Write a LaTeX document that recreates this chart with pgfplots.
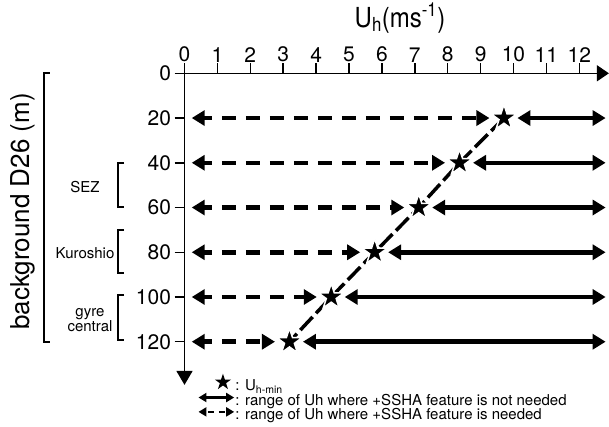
\documentclass[border=0pt]{standalone}
\usepackage{fontspec}
\setmainfont{TeX Gyre Heros}
\usepackage{pgfplots}
\pgfplotsset{compat=1.18}
\usetikzlibrary{arrows.meta,shapes.geometric}

\pgfdeclareplotmark{bigstar}{\node[star,star points=5,star point ratio=2.6,inner sep=0pt,minimum size=27pt,fill=black,draw=white,line width=1.5pt]{};}

\tikzset{
  dtip/.tip={Triangle[length=13pt,width=15pt]},
  ltip/.tip={Triangle[length=8pt,width=9pt]},
}
\newcommand{\lf}{\fontsize{15}{15}\selectfont}

\begin{document}
\begin{tikzpicture}
\useasboundingbox (-184.5pt,-42.1pt) rectangle (424.5pt,384.9pt);
\begin{axis}[
  at={(0pt,0pt)}, anchor=south west,
  scale only axis, width=424.4pt, height=311.6pt,
  xmin=0, xmax=12.9, ymin=0, ymax=139.3,
  y dir=reverse,
  axis x line=top, axis y line=left,
  axis line style={line width=1.5pt},
  x axis line style={-{Triangle[length=12pt,width=16pt]}},
  y axis line style={-{Triangle[length=14pt,width=16pt]}},
  xtick={0,1,...,12}, ytick={0,20,...,120},
  tick align=outside, major tick length=10pt,
  tick style={line width=1.5pt, black},
  ticklabel style={font=\fontsize{21}{25}\selectfont},
  xticklabel style={yshift=-2.5pt},
  /pgf/number format/assume math mode=true,
  title={U\textsubscript{h}(ms\textsuperscript{-1})},
  title style={at={(0.5078,1)},anchor=base,yshift=40pt,yscale=1.15,font=\fontsize{24}{28}\selectfont},
  clip=false,
  legend style={at={(0.030,0.036)},anchor=north west,draw=none,fill=none,
    inner sep=0pt,outer sep=0pt,
    nodes={inner sep=0pt,outer sep=0pt,text height=9.5pt,text depth=2.2pt},
    row sep=0pt},
  legend cell align=left,
]
% dashed ranges (feature needed)
\addplot[forget plot, line width=4.5pt, dash pattern=on 14pt off 10pt, dash phase=6pt, dtip-dtip] coordinates {(0.22,20) (9.27,20)};
\addplot[forget plot, line width=4.5pt, dash pattern=on 14pt off 10pt, dash phase=6pt, dtip-dtip] coordinates {(0.22,40) (7.92,40)};
\addplot[forget plot, line width=4.5pt, dash pattern=on 14pt off 10pt, dash phase=6pt, dtip-dtip] coordinates {(0.22,60) (6.68,60)};
\addplot[forget plot, line width=4.5pt, dash pattern=on 14pt off 10pt, dash phase=6pt, dtip-dtip] coordinates {(0.22,80) (5.34,80)};
\addplot[forget plot, line width=4.5pt, dash pattern=on 14pt off 10pt, dash phase=6pt, dtip-dtip] coordinates {(0.22,100) (4.02,100)};
\addplot[forget plot, line width=4.5pt, dash pattern=on 14pt off 10pt, dash phase=6pt, dtip-dtip] coordinates {(0.22,120) (2.75,120)};
% solid ranges (feature not needed)
\addplot[forget plot, line width=4.5pt, dtip-dtip] coordinates {(10.12,20) (12.8,20)};
\addplot[forget plot, line width=4.5pt, dtip-dtip] coordinates {(8.77,40) (12.8,40)};
\addplot[forget plot, line width=4.5pt, dtip-dtip] coordinates {(7.53,60) (12.8,60)};
\addplot[forget plot, line width=4.5pt, dtip-dtip] coordinates {(6.19,80) (12.8,80)};
\addplot[forget plot, line width=4.5pt, dtip-dtip] coordinates {(4.87,100) (12.8,100)};
\addplot[forget plot, line width=4.5pt, dtip-dtip] coordinates {(3.60,120) (12.8,120)};
% U_h-min connecting line
\addplot[forget plot, white, line width=8pt] coordinates {(9.71,20) (8.36,40) (7.12,60) (5.78,80) (4.46,100) (3.19,120)};
\addplot[forget plot, black, line width=3.5pt, dash pattern=on 18pt off 5pt] coordinates {(9.71,20) (8.36,40) (7.12,60) (5.78,80) (4.46,100) (3.19,120)};
\addplot[forget plot, only marks, mark=bigstar] coordinates {(9.71,20) (8.36,40) (7.12,60) (5.78,80) (4.46,100) (3.19,120)};

\addlegendimage{legend image code/.code={\node[star,star points=5,star point ratio=2.6,inner sep=0pt,text height=0pt,text depth=0pt,text width=0pt,minimum size=17pt,fill=black] at (20pt,5pt) {};}}
\addlegendentry{\lf : U\textsubscript{h-min}}
\addlegendimage{legend image code/.code={\draw[line width=2.5pt,ltip-ltip] (0pt,4pt) -- (35.7pt,4pt);}}
\addlegendentry{\lf : range of Uh where +SSHA feature is not needed}
\addlegendimage{legend image code/.code={\draw[line width=2.5pt,dash pattern=on 6pt off 5pt,dash phase=-2pt,ltip-ltip] (0pt,4pt) -- (35.7pt,4pt);}}
\addlegendentry{\lf : range of Uh where +SSHA feature is needed}
\end{axis}
% depth brackets and labels
\node[rotate=90,font=\fontsize{26}{30}\selectfont] at (-162pt,173.4pt) {background D26 (m)};
\draw[line width=2pt] (-134.5pt,311.6pt) -- (-140.5pt,311.6pt) -- (-140.5pt,43.2pt) -- (-134.5pt,43.2pt);
\draw[line width=2pt] (-60.5pt,221.9pt) -- (-66.5pt,221.9pt) -- (-66.5pt,177.9pt) -- (-60.5pt,177.9pt);
\draw[line width=2pt] (-60.5pt,154.9pt) -- (-66.5pt,154.9pt) -- (-66.5pt,111.9pt) -- (-60.5pt,111.9pt);
\draw[line width=2pt] (-60.5pt,89.9pt) -- (-66.5pt,89.9pt) -- (-66.5pt,44.9pt) -- (-60.5pt,44.9pt);
\node[font=\fontsize{15}{15}\selectfont] at (-99.5pt,197.9pt) {SEZ};
\node[font=\fontsize{15}{15}\selectfont] at (-99.5pt,131.9pt) {Kuroshio};
\node[font=\fontsize{15}{13}\selectfont,align=center] at (-94.5pt,64.9pt) {gyre\\central};
\end{tikzpicture}
\end{document}
